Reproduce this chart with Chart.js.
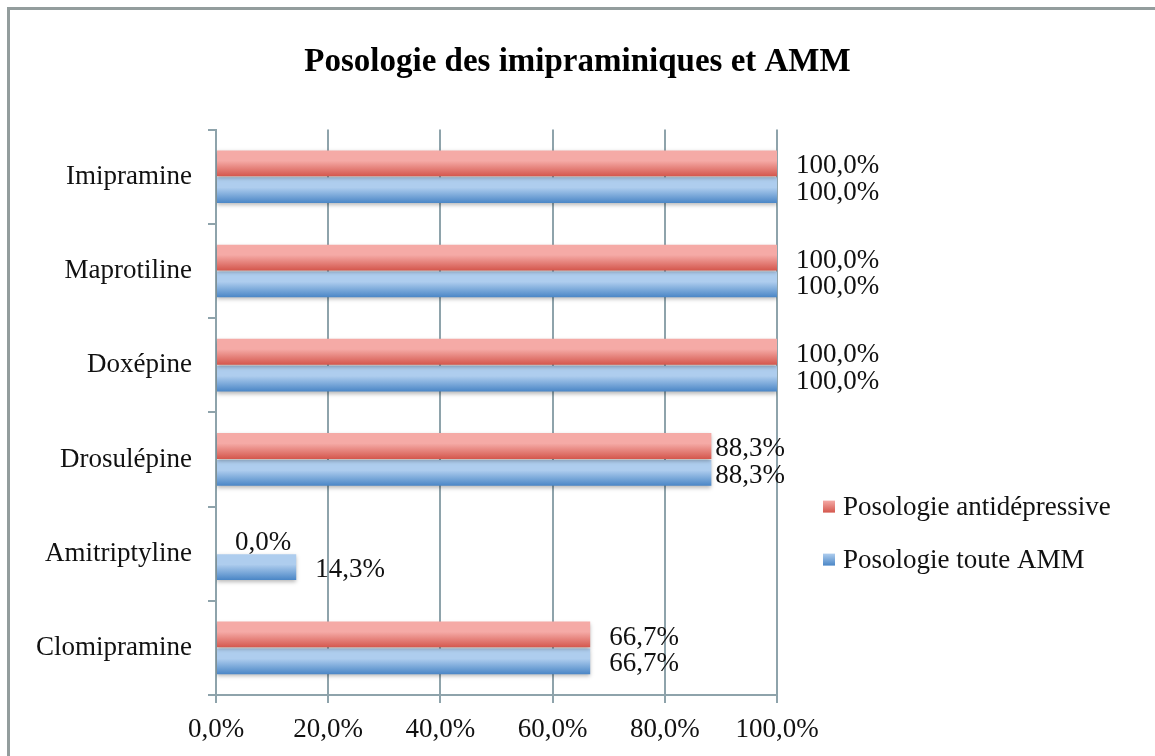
<!DOCTYPE html>
<html>
<head>
<meta charset="utf-8">
<script src="https://cdn.jsdelivr.net/npm/chart.js@4"></script>
<style>
  html, body { margin: 0; padding: 0; background: #fff; }
  #frame { position: relative; width: 1155px; height: 756px; overflow: hidden; }
  #frame::before { content: ""; position: absolute; left: 7px; top: 7px; right: -10px; bottom: -10px;
    border-left: 3px solid #939d9d; border-top: 3px solid #939d9d; pointer-events: none; z-index: 2; }
  canvas { position: absolute; left: 0; top: 0; }
</style>
</head>
<body>
<div id="frame"><canvas id="diagramm" width="1155" height="756"></canvas></div>
<script>
// Données
const categories = ["Imipramine", "Maprotiline", "Doxépine", "Drosulépine", "Amitriptyline", "Clomipramine"];
const antidepressive = [100.0, 100.0, 100.0, 88.3, 0.0, 66.7];
const touteAMM = [100.0, 100.0, 100.0, 88.3, 14.3, 66.7];
const seriesNames = ["Posologie antidépressive", "Posologie toute AMM"];
const xTicks = [0, 20, 40, 60, 80, 100];

const police = "'Liberation Serif', 'DejaVu Serif', serif";
const gridColor = '#8ea3ab';
// couleurs haut / bas du dégradé de chaque série
const degrades = [
    ['#f5aaa6', '#d4574d'],
    ['#aecdee', '#4a86c6']
];

const fmt = v => v.toFixed(1).replace('.', ',') + '%';

// dégradé vertical sur chaque barre + ombre légère
const degradePlugin = {
    id: 'degrade',
    beforeDatasetsDraw(chart) {
        const ctx = chart.ctx;
        chart.data.datasets.forEach((ds, i) => {
            chart.getDatasetMeta(i).data.forEach(el => {
                const h = el.height;
                const g = ctx.createLinearGradient(0, el.y - h / 2, 0, el.y + h / 2);
                g.addColorStop(0, degrades[i][0]);
                g.addColorStop(0.4, degrades[i][0]);
                g.addColorStop(1, degrades[i][1]);
                el.options = Object.assign({}, el.options, { backgroundColor: g });
            });
        });
    },
    beforeDatasetDraw(chart) {
        const ctx = chart.ctx;
        ctx.save();
        ctx.shadowColor = 'rgba(0,0,0,0.28)';
        ctx.shadowBlur = 4;
        ctx.shadowOffsetY = 2;
    },
    afterDatasetDraw(chart) {
        chart.ctx.restore();
    }
};

// étiquettes de valeurs à droite des barres
const etiquettesPlugin = {
    id: 'etiquettes',
    afterDatasetsDraw(chart) {
        const ctx = chart.ctx;
        ctx.save();
        ctx.font = '27px ' + police;
        ctx.fillStyle = '#111';
        ctx.textAlign = 'left';
        ctx.textBaseline = 'middle';
        chart.data.datasets.forEach((ds, i) => {
            chart.getDatasetMeta(i).data.forEach((el, j) => {
                const v = ds.data[j];
                const dx = v > 85 && v < 95 ? 4 : 19;
                ctx.fillText(fmt(v), el.x + dx, el.y + 3);
            });
        });
        ctx.restore();
    }
};

// légende dessinée à droite, sous le milieu
const legendePlugin = {
    id: 'legende',
    afterDraw(chart) {
        const ctx = chart.ctx;
        const ca = chart.chartArea;
        ctx.save();
        ctx.font = '27px ' + police;
        ctx.textBaseline = 'middle';
        chart.data.datasets.forEach((ds, i) => {
            const x = ca.right + 46;
            const y = ca.top + 377 + i * 53;
            const g = ctx.createLinearGradient(0, y - 6, 0, y + 6);
            g.addColorStop(0, degrades[i][0]);
            g.addColorStop(1, degrades[i][1]);
            ctx.fillStyle = g;
            ctx.fillRect(x, y - 6, 12, 12);
            ctx.fillStyle = '#111';
            ctx.fillText(ds.label, x + 20, y + 1);
        });
        ctx.restore();
    }
};

new Chart(document.getElementById('diagramm').getContext('2d'), {
    type: 'bar',
    data: {
        labels: categories,
        datasets: [
            { label: seriesNames[0], data: antidepressive, backgroundColor: degrades[0][1] },
            { label: seriesNames[1], data: touteAMM, backgroundColor: degrades[1][1] }
        ]
    },
    options: {
        indexAxis: 'y',
        responsive: false,
        animation: false,
        categoryPercentage: 0.57,
        barPercentage: 0.96,
        layout: { padding: { left: 10, right: 10, top: 0, bottom: 8 } },
        scales: {
            x: {
                min: 0,
                max: 100,
                afterBuildTicks: axis => { axis.ticks = xTicks.map(v => ({ value: v })); },
                ticks: {
                    callback: v => fmt(v),
                    color: '#111',
                    font: { family: police, size: 27 },
                    padding: 11
                },
                grid: { color: gridColor, lineWidth: 2, tickLength: 8 },
                border: { color: gridColor, width: 2 },
                afterFit: s => { s.height = 53; }
            },
            y: {
                ticks: {
                    color: '#111',
                    font: { family: police, size: 27 },
                    padding: 16
                },
                grid: { offset: true, drawOnChartArea: false, color: gridColor, lineWidth: 2, tickLength: 8 },
                border: { color: gridColor, width: 2 },
                afterFit: s => { s.width = 206; }
            },
            // place réservée à droite pour la légende
            droite: {
                type: 'linear',
                axis: 'y',
                position: 'right',
                display: true,
                ticks: { display: false },
                grid: { display: false, drawTicks: false },
                border: { display: false },
                afterFit: s => { s.width = 368; }
            }
        },
        plugins: {
            legend: { display: false },
            tooltip: { enabled: false },
            title: {
                display: true,
                text: 'Posologie des imipraminiques et AMM',
                color: '#000',
                font: { family: police, size: 33, weight: 'bold' },
                padding: { top: 43, bottom: 47 }
            }
        }
    },
    plugins: [degradePlugin, etiquettesPlugin, legendePlugin]
});
</script>
</body>
</html>
